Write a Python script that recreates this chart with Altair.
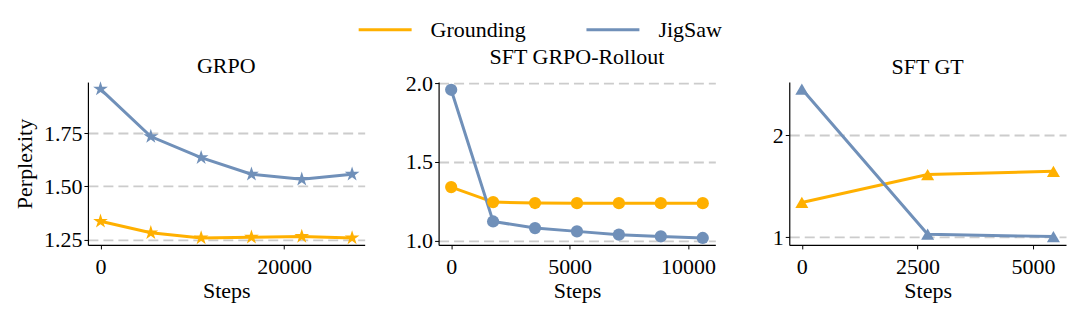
import altair as alt
import pandas as pd

series = ["Grounding", "JigSaw"]
colors = ["#FFB000", "#7090B9"]

grpo_steps = [0, 5480, 10960, 16440, 21920, 27400]
grpo_ground = [1.336, 1.282, 1.258, 1.261, 1.265, 1.258]
grpo_jig = [1.957, 1.734, 1.635, 1.557, 1.533, 1.557]

roll_steps = [0, 1770, 3540, 5310, 7080, 8850, 10620]
roll_ground = [1.340, 1.245, 1.239, 1.238, 1.238, 1.238, 1.238]
roll_jig = [1.958, 1.122, 1.080, 1.059, 1.038, 1.027, 1.017]

gt_steps = [0, 2720, 5440]
gt_ground = [1.342, 1.616, 1.648]
gt_jig = [2.456, 1.030, 1.007]

FONT = "Liberation Serif"

# five-pointed star as a custom symbol path (unit box -1..1)
STAR = ("M0,-1L0.2245,-0.309L0.9511,-0.309L0.3633,0.118L0.5878,0.809L0,0.382"
        "L-0.5878,0.809L-0.3633,0.118L-0.9511,-0.309L-0.2245,-0.309Z")
# long horizontal stroke for the legend sample
LEGEND_LINE = "M-1.325,0L1.325,0"

main_legend = alt.Legend(
    title=None, orient="none", direction="horizontal",
    legendX=276, legendY=-74,
    symbolType=LEGEND_LINE, symbolSize=1600, symbolStrokeWidth=3,
    labelFontSize=22, labelFont=FONT, labelColor="black",
    labelOffset=24, columnPadding=54, padding=0,
)


def panel(title, steps, g, j, shape, size, xdom, ydom, xticks, yticks, yfmt, ytitle, with_legend):
    df = pd.DataFrame({
        "Steps": list(steps) * 2,
        "Perplexity": list(g) + list(j),
        "Series": [series[0]] * len(steps) + [series[1]] * len(steps),
    })
    x = alt.X("Steps:Q",
              scale=alt.Scale(domain=xdom, nice=False, zero=False),
              axis=alt.Axis(values=xticks, format="d", grid=False, title="Steps",
                            titleFontWeight="normal"))
    if ytitle:
        yaxis = alt.Axis(values=yticks, format=yfmt, grid=True, title=ytitle,
                         titleFontWeight="normal")
    else:
        yaxis = alt.Axis(values=yticks, format=yfmt, grid=True, title=None)
    y = alt.Y("Perplexity:Q", scale=alt.Scale(domain=ydom, nice=False, zero=False), axis=yaxis)
    cscale = alt.Scale(domain=series, range=colors)
    if with_legend:
        c_line = alt.Color("Series:N", scale=cscale, legend=main_legend)
    else:
        c_line = alt.Color("Series:N", scale=cscale, legend=None)
    c_pts = alt.Color("Series:N", scale=cscale, legend=None)
    line = alt.Chart(df).mark_line(strokeWidth=3).encode(x=x, y=y, color=c_line)
    pts = alt.Chart(df).mark_point(shape=shape, size=size, filled=True, opacity=1).encode(
        x=x, y=y, color=c_pts)
    return alt.layer(line, pts).properties(width=277, height=163, title=title)


p1 = panel("GRPO", grpo_steps, grpo_ground, grpo_jig, STAR, 240,
           [-1370, 28770], [1.225, 1.99], [0, 20000], [1.25, 1.5, 1.75], ".2f", "Perplexity", True)
p2 = panel("SFT GRPO-Rollout", roll_steps, roll_ground, roll_jig, "circle", 150,
           [-531, 11151], [0.973, 2.007], [0, 5000, 10000], [1.0, 1.5, 2.0], ".1f", None, False)
p3 = panel("SFT GT", gt_steps, gt_ground, gt_jig, "triangle-up", 170,
           [-272, 5712], [0.925, 2.525], [0, 2500, 5000], [1, 2], "d", None, False)

chart = alt.hconcat(p1, p2, p3, spacing=74, bounds="flush").configure_view(
    stroke=None
).configure_axis(
    labelFont=FONT, titleFont=FONT, labelFontSize=22, titleFontSize=22,
    labelColor="black", titleColor="black", titleFontWeight="normal",
    domainColor="black", tickColor="black", domainWidth=1.2, tickSize=4,
    gridColor="#cccccc", gridDash=[10, 5], gridWidth=1.8,
).configure_axisY(
    labelPadding=2, titlePadding=7, titleFontWeight="normal",
).configure_axisX(
    labelPadding=8, titlePadding=3, titleFontWeight="normal",
).configure_title(
    font=FONT, fontSize=22, fontWeight="normal", color="black", offset=3, frame="group",
).properties(
    padding={"left": 5, "top": 0, "right": 5, "bottom": 5},
)

chart.save("out.html", embed_options={"renderer": "svg", "actions": False})
